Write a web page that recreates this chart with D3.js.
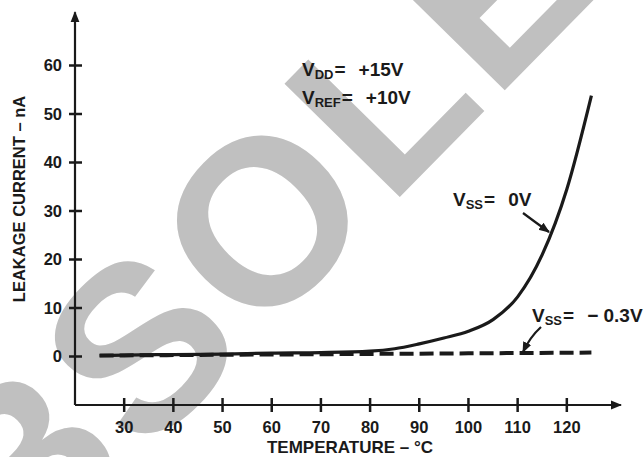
<!DOCTYPE html>
<html>
<head>
<meta charset="utf-8">
<script src="https://cdnjs.cloudflare.com/ajax/libs/d3/7.8.5/d3.min.js"></script>
<style>
  body { margin: 0; background: #fff; }
  text { font-family: "Liberation Sans", Arial, Helvetica, sans-serif; font-weight: bold; fill: #1a1a1a; }
</style>
</head>
<body>
<svg id="chart" width="644" height="457"></svg>
<script>
// temperature (°C) and leakage current (nA)
var temps_0v = [25, 30, 40, 50, 60, 70, 80, 85, 90, 95, 100, 105, 110, 115, 120, 125];
var leak_0v  = [0.2, 0.3, 0.4, 0.5, 0.7, 0.8, 1.1, 1.6, 2.6, 3.8, 5.2, 7.6, 12.3, 21, 34.5, 53.8];
var temps_03v = [25, 50, 75, 100, 125];
var leak_03v  = [0.2, 0.35, 0.5, 0.65, 0.8];
var xticks = [30, 40, 50, 60, 70, 80, 90, 100, 110, 120];
var yticks = [0, 10, 20, 30, 40, 50, 60];

var svg = d3.select("#chart");
var x = d3.scaleLinear().domain([20, 130]).range([75, 616]);
var y = d3.scaleLinear().domain([-10, 70]).range([405, 17]);

// watermark
svg.append("text")
  .attr("transform", "translate(-113,719) rotate(-45.5)")
  .style("font-size", "235px")
  .style("letter-spacing", "6px")
  .style("fill", "#c0c0c0")
  .text("OBSOLETE");

var ink = "#1a1a1a";

svg.append("defs").append("marker")
  .attr("id", "ah").attr("viewBox", "0 0 10 10").attr("refX", 9).attr("refY", 5)
  .attr("markerWidth", 5).attr("markerHeight", 5).attr("markerUnits", "strokeWidth")
  .attr("orient", "auto")
  .append("path").attr("d", "M0,1 L10,5 L0,9 Z").attr("fill", ink);

// axes lines with arrows
svg.append("line").attr("x1", x(20)).attr("y1", y(-10)).attr("x2", x(20)).attr("y2", y(71))
  .attr("stroke", ink).attr("stroke-width", 2.2).attr("marker-end", "url(#ah)");
svg.append("line").attr("x1", x(20)).attr("y1", y(-10)).attr("x2", x(131)).attr("y2", y(-10))
  .attr("stroke", ink).attr("stroke-width", 2.2).attr("marker-end", "url(#ah)");

// y ticks
var yt = svg.append("g");
yticks.forEach(function(v) {
  yt.append("line").attr("x1", x(20) - 6).attr("x2", x(20) + 7).attr("y1", y(v)).attr("y2", y(v))
    .attr("stroke", ink).attr("stroke-width", 2.5);
  yt.append("text").attr("x", x(20) - 13).attr("y", y(v)).attr("dy", "0.36em")
    .attr("text-anchor", "end").style("font-size", "16.5px").text(v);
});

// x ticks
var xt = svg.append("g");
xticks.forEach(function(v) {
  xt.append("line").attr("x1", x(v)).attr("x2", x(v)).attr("y1", y(-10) - 7).attr("y2", y(-10) + 7)
    .attr("stroke", ink).attr("stroke-width", 2.5);
  xt.append("text").attr("x", x(v)).attr("y", 433)
    .attr("text-anchor", "middle").style("font-size", "16.5px").text(v);
});

// axis titles
svg.append("text").attr("x", 350).attr("y", 453).attr("text-anchor", "middle")
  .style("font-size", "17px").text("TEMPERATURE – °C");
svg.append("text").attr("transform", "translate(25,199) rotate(-90)").attr("text-anchor", "middle")
  .style("font-size", "16.5px").text("LEAKAGE CURRENT – nA");

// curves
var line = d3.line().curve(d3.curveMonotoneX);
svg.append("path")
  .attr("d", line(temps_03v.map(function(t, i) { return [x(t), y(leak_03v[i])]; })))
  .attr("fill", "none").attr("stroke", ink).attr("stroke-width", 4)
  .attr("stroke-dasharray", "14,6");
svg.append("path")
  .attr("d", line(temps_0v.map(function(t, i) { return [x(t), y(leak_0v[i])]; })))
  .attr("fill", "none").attr("stroke", ink).attr("stroke-width", 3.2);

// annotations
function vlabel(px, py, sub, rest) {
  var t = svg.append("text").attr("x", px).attr("y", py).style("font-size", "19px");
  t.append("tspan").text("V");
  t.append("tspan").attr("dy", 3).style("font-size", "13px").text(sub);
  t.append("tspan").attr("dy", -3).attr("dx", 1).text("=");
  t.append("tspan").attr("dx", 13).text(rest);
}
vlabel(302, 76, "DD", "+15V");
vlabel(302, 104, "REF", "+10V");
vlabel(453, 206, "SS", "0V");
vlabel(532, 322, "SS", "\u2212 0.3V");

// pointer arrows
svg.append("path").attr("d", "M523,213 Q535,222 549,232")
  .attr("fill", "none").attr("stroke", ink).attr("stroke-width", 2.2).attr("marker-end", "url(#ah)");
svg.append("path").attr("d", "M541,327 Q530,337 523,352")
  .attr("fill", "none").attr("stroke", ink).attr("stroke-width", 2.2).attr("marker-end", "url(#ah)");
</script>
</body>
</html>
